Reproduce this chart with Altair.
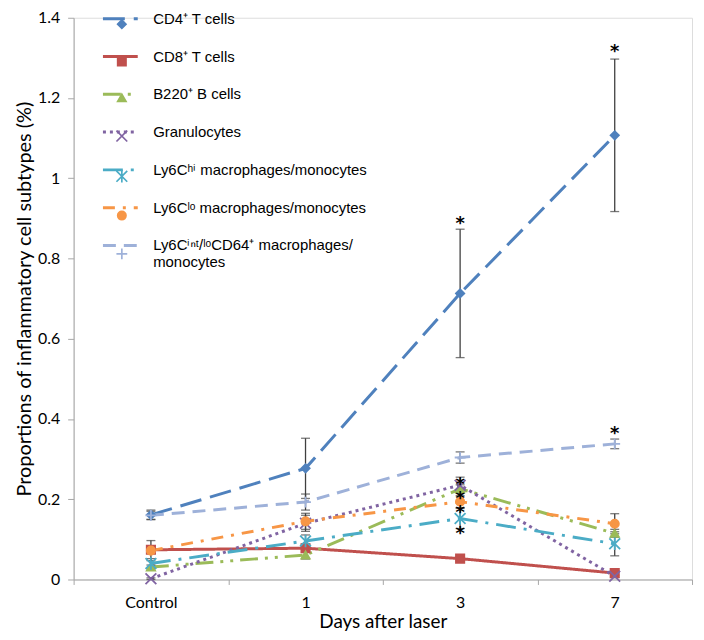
import altair as alt
import pandas as pd

days = ["Control", "1", "3", "7"]
series = [
    "CD4⁺ T cells",
    "CD8⁺ T cells",
    "B220⁺ B cells",
    "Granulocytes",
    "Ly6Cʰⁱ macrophages/monocytes",
    "Ly6Cˡᵒ macrophages/monocytes",
    "Ly6Cⁱⁿᵗ/ˡᵒCD64⁺ macrophages/|monocytes",
]
marker_keys = ["m0", "m1", "m2", "m3", "m4", "m5", "m6"]
values = {
    series[0]: [0.161, 0.277, 0.713, 1.107],
    series[1]: [0.074, 0.078, 0.052, 0.016],
    series[2]: [0.031, 0.061, 0.226, 0.115],
    series[3]: [0.002, 0.140, 0.235, 0.008],
    series[4]: [0.040, 0.096, 0.152, 0.089],
    series[5]: [0.072, 0.145, 0.194, 0.139],
    series[6]: [0.160, 0.193, 0.304, 0.338],
}
errors = {
    series[0]: [0.012, 0.075, 0.160, 0.190],
    series[1]: [0.008, 0.010, 0.005, 0.005],
    series[2]: [0.005, 0.010, 0.010, 0.010],
    series[3]: [0.002, 0.020, 0.020, 0.003],
    series[4]: [0.012, 0.015, 0.025, 0.030],
    series[5]: [0.025, 0.020, 0.015, 0.025],
    series[6]: [0.010, 0.020, 0.014, 0.012],
}
colors = ["#4F81BD", "#C0504D", "#9BBB59", "#8064A2", "#4BACC6", "#F79646", "#9EB1D9"]
dashes = [[22, 9], [1, 0], [18, 7, 3, 7, 3, 7], [3, 4], [20, 8, 3, 8], [12, 8, 3, 8], [13, 8]]
shapes = [
    "diamond", "square", "triangle-up",
    "M-1.3,-1.3L1.3,1.3M-1.3,1.3L1.3,-1.3",
    "M-1.3,-1.3L1.3,1.3M-1.3,1.3L1.3,-1.3M0,-1.5L0,1.5",
    "circle",
    "M-1.3,0L1.3,0M0,-1.3L0,1.3",
]

star_day = ["3", "7", "7", "3", "3", "3", "3"]
star_y = [0.895, 1.325, 0.372, 0.246, 0.210, 0.175, 0.122]

rows = []
for s, m in zip(series, marker_keys):
    for d, v, e in zip(days, values[s], errors[s]):
        rows.append({"series": s, "marker": m, "day": d, "value": v, "lo": v - e, "hi": v + e})
df = pd.DataFrame(rows)
stars = pd.DataFrame({"day": star_day, "y": star_y, "t": ["*"] * len(star_y)})

FONT = "Lato"
xscale = alt.Scale(domain=days, type="band", paddingInner=0, paddingOuter=0)
yscale = alt.Scale(domain=[0, 1.4], nice=False)

x = alt.X("day:N", scale=xscale, sort=days,
          axis=alt.Axis(title="Days after laser", labelAngle=0, tickBand="extent",
                        labelFontSize=16, labelFont=FONT, labelColor="black",
                        titleFont=FONT, titleFontSize=19, titleFontWeight="normal",
                        titleColor="black", titlePadding=2, labelPadding=10,
                        tickSize=5, domainColor="#A6A6A6", tickColor="#A6A6A6",
                        grid=False))
y = alt.Y("value:Q", scale=yscale,
          axis=alt.Axis(title="Proportions of inflammatory cell subtypes (%)",
                        values=[0, 0.2, 0.4, 0.6, 0.8, 1.0, 1.2, 1.4], format="~g",
                        labelFontSize=16, labelFont=FONT, labelColor="black",
                        titleFont=FONT, titleFontSize=20, titleFontWeight="normal",
                        titleColor="black", titlePadding=3, labelPadding=8,
                        tickSize=6, domainColor="#A6A6A6", tickColor="#A6A6A6",
                        grid=False))

LEG_X = 28
LEG_Y = -18
legend_opts = dict(title=None, orient="none", legendX=LEG_X, legendY=LEG_Y,
                   symbolType="stroke", symbolStrokeWidth=3,
                   symbolSize=1225, labelFont="Liberation Sans",
                   labelFontSize=15, labelColor="black",
                   labelOffset=14, rowPadding=11, padding=0,
                   labelLimit=400, labelExpr="split(datum.label, '|')")
color = alt.Color("series:N", scale=alt.Scale(domain=series, range=colors),
                  legend=alt.Legend(**legend_opts))
dash = alt.StrokeDash("series:N", scale=alt.Scale(domain=series, range=dashes),
                      legend=alt.Legend(**legend_opts))

# marker legend overlaid on the centre of the line samples
col_expr = "'#000000'"
for k, c in zip(reversed(marker_keys), reversed(colors)):
    col_expr = f"(datum.value == '{k}' ? '{c}' : {col_expr})"
marker_legend = alt.Legend(
    title=None, orient="none", legendX=LEG_X + 13, legendY=LEG_Y + 17,
    symbolSize=70, labelFont="Liberation Sans", labelFontSize=15,
    labelOpacity=0, labelOffset=14, rowPadding=20.5, padding=0, labelLimit=400,
    labelExpr="'x'",
    symbolOpacity=1,
    symbolFillColor={"expr": col_expr},
    symbolStrokeColor={"expr": col_expr},
    symbolStrokeWidth=1.7,
)
shape = alt.Shape("marker:N", scale=alt.Scale(domain=marker_keys, range=shapes),
                  legend=marker_legend)

base = alt.Chart(df)

lines = base.mark_line(strokeWidth=3).encode(x=x, y=y, color=color, strokeDash=dash)

xpos = alt.X("day:N", scale=xscale, sort=days)
err = base.mark_rule(color="#404040", strokeWidth=1.3).encode(
    x=xpos, y=alt.Y("lo:Q", scale=yscale), y2="hi:Q")
cap_lo = base.mark_tick(color="#404040", thickness=1.3, size=9, orient="horizontal").encode(
    x=xpos, y=alt.Y("lo:Q", scale=yscale))
cap_hi = base.mark_tick(color="#404040", thickness=1.3, size=9, orient="horizontal").encode(
    x=xpos, y=alt.Y("hi:Q", scale=yscale))

pts = base.mark_point(filled=True, size=70, opacity=1, strokeWidth=1.8).encode(
    x=xpos, y=alt.Y("value:Q", scale=yscale),
    color=alt.Color("series:N", scale=alt.Scale(domain=series, range=colors), legend=None),
    stroke=alt.Stroke("series:N", scale=alt.Scale(domain=series, range=colors), legend=None),
    shape=shape)

star_text = alt.Chart(stars).mark_text(font="DejaVu Sans", fontSize=18, fontWeight="bold",
                                       color="black", baseline="middle", dy=4).encode(
    x=xpos, y=alt.Y("y:Q", scale=yscale), text="t:N")

chart = alt.layer(lines, err, cap_lo, cap_hi, pts, star_text).properties(
    width=622, height=565,
    autosize=alt.AutoSizeParams(type="none"),
    padding={"left": 66, "top": 8, "right": 4, "bottom": 51},
).configure_view(stroke=None).configure(background="white")

chart.save("out.html", embed_options={"renderer": "svg", "actions": False})
